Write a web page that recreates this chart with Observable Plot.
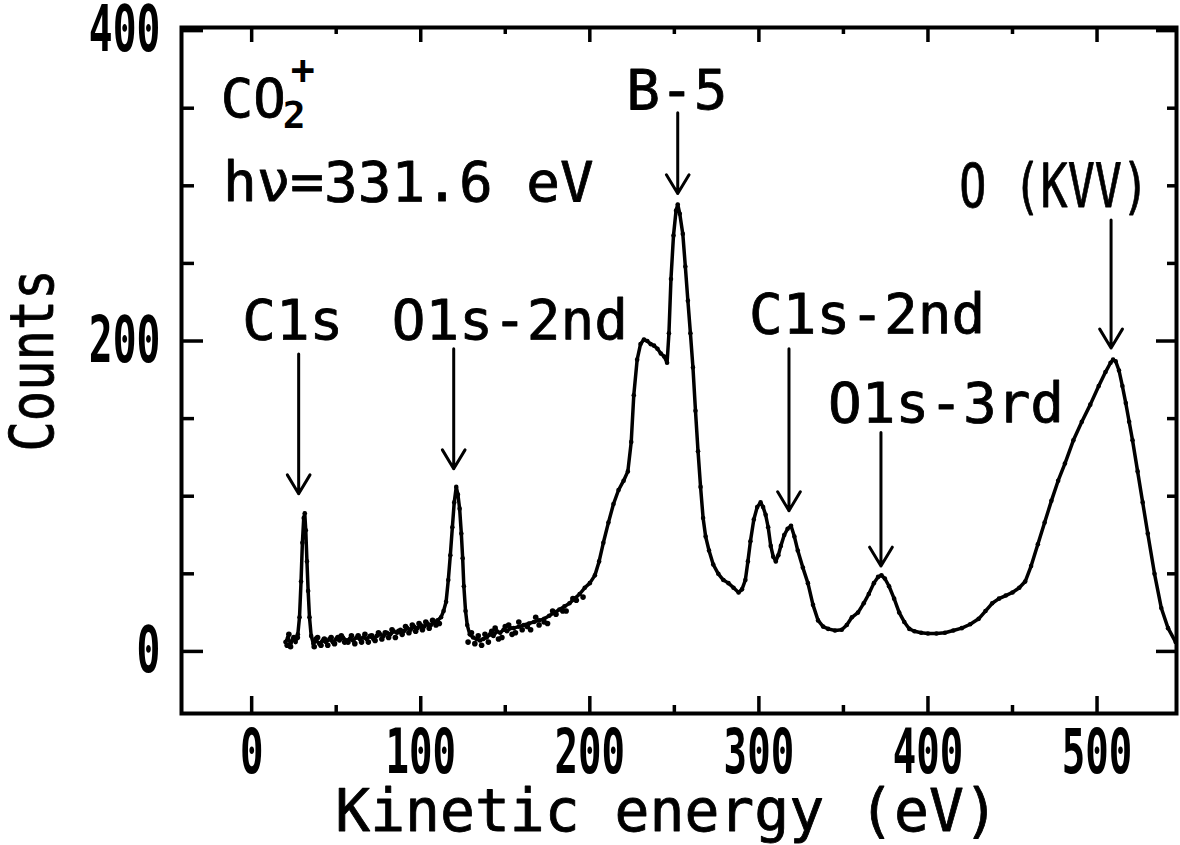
<!DOCTYPE html>
<html><head><meta charset="utf-8">
<script src="https://cdn.jsdelivr.net/npm/d3@7"></script>
<script src="https://cdn.jsdelivr.net/npm/@observablehq/plot@0.6"></script>
<style>html,body{margin:0;padding:0;background:#fff;} #chart svg{display:block}</style>
</head><body><div id="chart"></div>
<script>
// Spectrum (kinetic energy in eV, counts)
const energy = [20,21.5,23,24.5,26,27.3,28.3,29.2,30,30.8,31.4,32,32.7,33.4,34.2,35.2,36.5,38,40,42,44,46,48,50,52,54,56,58,60,62,64,66,68,70,72,74,76,78,80,82,84,86,88,90,92,94,96,98,100,102,104,106,108,110,112,113.5,115,116.3,117.5,118.7,119.8,121,122,123,124,124.8,125.5,126.5,127.5,129,131,133,135,137,139,141,143,145,147,149,151,153,155,158,161,164,167,170,173,176,179,182,185,188,191,194,197,200,203,205.5,208,211,214,217,220,222.5,224.5,226,228,230,232,234,236,238,240,242,244,245.7,246.8,248,249.5,251,252,253.2,255,256.5,258,259.5,261,262.5,264,265.5,267,268.5,270.5,273,276,279,282,285,288,290,292,293.5,295,297,299,301,302.5,304,305.5,307,308.5,310,311.5,313,315,317,319,321,323,326,329,332,335,338,341,345,349,352,355,358.6,362,365,368,370.5,372.5,374.5,377,380,383,386,389,392,396,400,405,410,415,420,425,430,434,438,442,446,450,454,457.5,461,465,469,473,477,481,486,491,496,501,505,508,509.5,511,513,515,517,519,521,524,527,530,534,538,542,546.5];
const counts = [6,9,5,8,6,11,22,45,70,86,89,78,58,39,22,10,5,7,5,7,6,8,6,8,7,9,7,8,7,9,8,9,8,10,8,10,11,10,12,11,13,12,14,13,15,14,16,15,17,16,18,17,19,20,22,26,32,46,62,80,96,106,101,92,76,60,42,26,17,11,9,8,7,8,9,11,10,13,12,14,13,15,15,16,17,18,19,20,21,23,25,27,29,31,34,37,41,44,49,58,70,83,95,104,110,116,135,165,188,198,201,200,198,197,195,192,190,186,205,240,268,284,288,282,269,248,226,205,183,155,129,106,86,74,65,56,50,46,44,41,38,40,46,58,71,85,93,96,93,88,80,68,61,58,62,68,75,79,81,74,65,54,44,30,20,16,14.5,13.5,14,17,22,25,31,37,44,48,49,47,42,34,25,19,14.5,13,12,11.5,11.5,12,13.5,15,17.5,21,26,31,34,36,38,41,45,55,69,83,97,110,121,136,148,159,171,180,186,188,187,181,171,160,148,136,116,96,76,50,28,15,6];
// scattered measured points in the noisy low-energy region
const scatterEnergy = [21,22,23,25,27,37,38,39,41,43,45,47,49,51,53,55,57,59,61,63,65,67,69,71,73,75,77,79,81,83,85,87,89,91,93,95,97,99,101,103,105,107,109,111,128,130,132,134,136,138,140,142,144,146,148,150,152,154,156,158,160,163,165,168,170,173,175,178,180,184,186,190,192,196];
const scatterCounts = [4,11,3,9,9,3,8,9,4,8,4,9,5,9,10,6,6,10,5,10,6,11,6,10,7,12,8,12,9,14,9,13,11,16,12,17,13,18,14,19,15,20,17,18,6,12,5,10,4,11,6,13,15,8,9,16,17,11,12,19,14,16,14,22,17,19,18,26,24,26,26,34,33,35];

// Peak annotations
const peakLabels = ["C1s","O1s-2nd","B-5","C1s-2nd","O1s-3rd","O (KVV)"];
const labelEnergy = [24.3,152.7,251.5,364,410.7,474.6];
const labelCounts = [213,213,361,217,159.5,299];
const arrowEnergy = [27.8,119.5,252,317.8,372.2,508.3];
const arrowTop = [191.6,195,347,195,141,278];
const arrowTip = [101.6,117.7,295,90.7,55,195.5];

// Axes
const xTicks = [0,100,200,300,400,500];
const xMinorTicks = [50,150,250,350,450];
const yTicks = [0,200,400];
const yMinorTicks = [50,100,150,250,300,350];
const xLabel = "Kinetic energy (eV)";
const yLabel = "Counts";
const ionText = "CO";
const ionSub = "2";
const ionSup = "+";
const photonText = "h\u03bd=331.6 eV";

const spectrum = energy.map((e, i) => ({e, c: counts[i]}));
const scatter = scatterEnergy.map((e, i) => ({e, c: scatterCounts[i]}));
const labels = peakLabels.map((t, i) => ({t, x: labelEnergy[i], y: labelCounts[i]}));
const arrows = arrowEnergy.map((x, i) => ({x, y1: arrowTop[i], y2: arrowTip[i]}));

const W = 1180, H = 845, mL = 181, mR = 4, mT = 27, mB = 132;
const pw = W - mL - mR, ph = H - mT - mB;
const font = "DejaVu Sans Mono";
const heavy = {fill: "black", stroke: "black", strokeWidth: 0.8};

const chart = Plot.plot({
  width: W, height: H,
  marginLeft: mL, marginRight: mR, marginTop: mT, marginBottom: mB,
  style: {background: "white", fontFamily: font, color: "black"},
  x: {domain: [-41.5, 547], label: null},
  y: {domain: [-40, 402], label: null},
  marks: [
    Plot.frame({stroke: "black", strokeWidth: 4}),
    // bottom / top x ticks (inward)
    Plot.ruleX(xTicks, {x: d => d, insetTop: ph - 17, strokeWidth: 3.5}),
    Plot.ruleX(xMinorTicks, {x: d => d, insetTop: ph - 8, strokeWidth: 3.5}),
    Plot.ruleX(xTicks, {x: d => d, insetBottom: ph - 15, strokeWidth: 3.5}),
    Plot.ruleX(xMinorTicks, {x: d => d, insetBottom: ph - 7, strokeWidth: 3.5}),
    // left / right y ticks (inward)
    Plot.ruleY(yTicks, {y: d => d, insetRight: pw - 22, strokeWidth: 3.5}),
    Plot.ruleY(yMinorTicks, {y: d => d, insetRight: pw - 13, strokeWidth: 3.5}),
    Plot.ruleY(yTicks, {y: d => d, insetLeft: pw - 20, strokeWidth: 3.5}),
    Plot.ruleY(yMinorTicks, {y: d => d, insetLeft: pw - 9, strokeWidth: 3.5}),
    Plot.axisX(xTicks, {tickSize: 0, tickPadding: 15, fontSize: 62, fontWeight: "bold", fontFamily: font, label: null}),
    Plot.axisY(yTicks, {tickSize: 0, tickPadding: 21, fontSize: 64, fontWeight: "bold", fontFamily: font, label: null}),
    Plot.text([xLabel], {frameAnchor: "bottom", dx: -12, dy: 99, fontSize: 58, fontFamily: font, lineAnchor: "middle", ...heavy}),
    Plot.text([yLabel], {frameAnchor: "left", textAnchor: "middle", dx: -148, dy: -10, rotate: -90, fontSize: 60, fontFamily: font, lineAnchor: "middle", ...heavy}),
    // spectrum
    Plot.line(spectrum, {x: "e", y: "c", stroke: "black", strokeWidth: 3.5, strokeLinejoin: "round"}),
    Plot.dot(spectrum, {x: "e", y: "c", r: 2.3, fill: "black"}),
    Plot.dot(scatter, {x: "e", y: "c", r: 2.8, fill: "black"}),
    // annotations
    Plot.arrow(arrows, {x1: "x", x2: "x", y1: "y1", y2: "y2", stroke: "black", strokeWidth: 3, headLength: 11, headAngle: 62}),
    Plot.text(labels, {x: "x", y: "y", text: "t", fontSize: 56, fontFamily: font, lineAnchor: "middle", ...heavy}),
    Plot.text([ionText], {x: -18.3, y: 355.6, textAnchor: "start", fontSize: 54, fontFamily: font, lineAnchor: "middle", ...heavy}),
    Plot.text([ionSub], {x: -18.3, y: 355.6, dx: 62, dy: 16, textAnchor: "start", fontSize: 38, fontFamily: font, fontWeight: "bold", lineAnchor: "middle"}),
    Plot.text([ionSup], {x: -18.3, y: 355.6, dx: 70, dy: -28, textAnchor: "start", fontSize: 40, fontFamily: font, fontWeight: "bold", lineAnchor: "middle"}),
    Plot.text([photonText], {x: -17, y: 301.6, textAnchor: "start", fontSize: 56, fontFamily: font, lineAnchor: "middle", ...heavy})
  ]
});

function squeezeEl(t, sx, origin) {
  const tr = t.getAttribute("transform");
  if (tr) t.setAttribute("transform", tr + ` scale(${sx},1)`);
  else {
    t.style.transformBox = "fill-box";
    t.style.transformOrigin = origin;
    t.style.transform = `scaleX(${sx})`;
  }
}
chart.querySelectorAll('g[aria-label="x-axis tick label"] text').forEach(t => squeezeEl(t, 0.63, "center"));
chart.querySelectorAll('g[aria-label="y-axis tick label"] text').forEach(t => squeezeEl(t, 0.62, "right center"));
chart.querySelectorAll("text").forEach(t => {
  if (t.textContent === "O (KVV)") { t.setAttribute("font-size", 60); squeezeEl(t, 0.75, "center"); }
  if (t.textContent === yLabel) squeezeEl(t, 0.84, "center");
});

document.getElementById("chart").appendChild(chart);
</script>
</body></html>
